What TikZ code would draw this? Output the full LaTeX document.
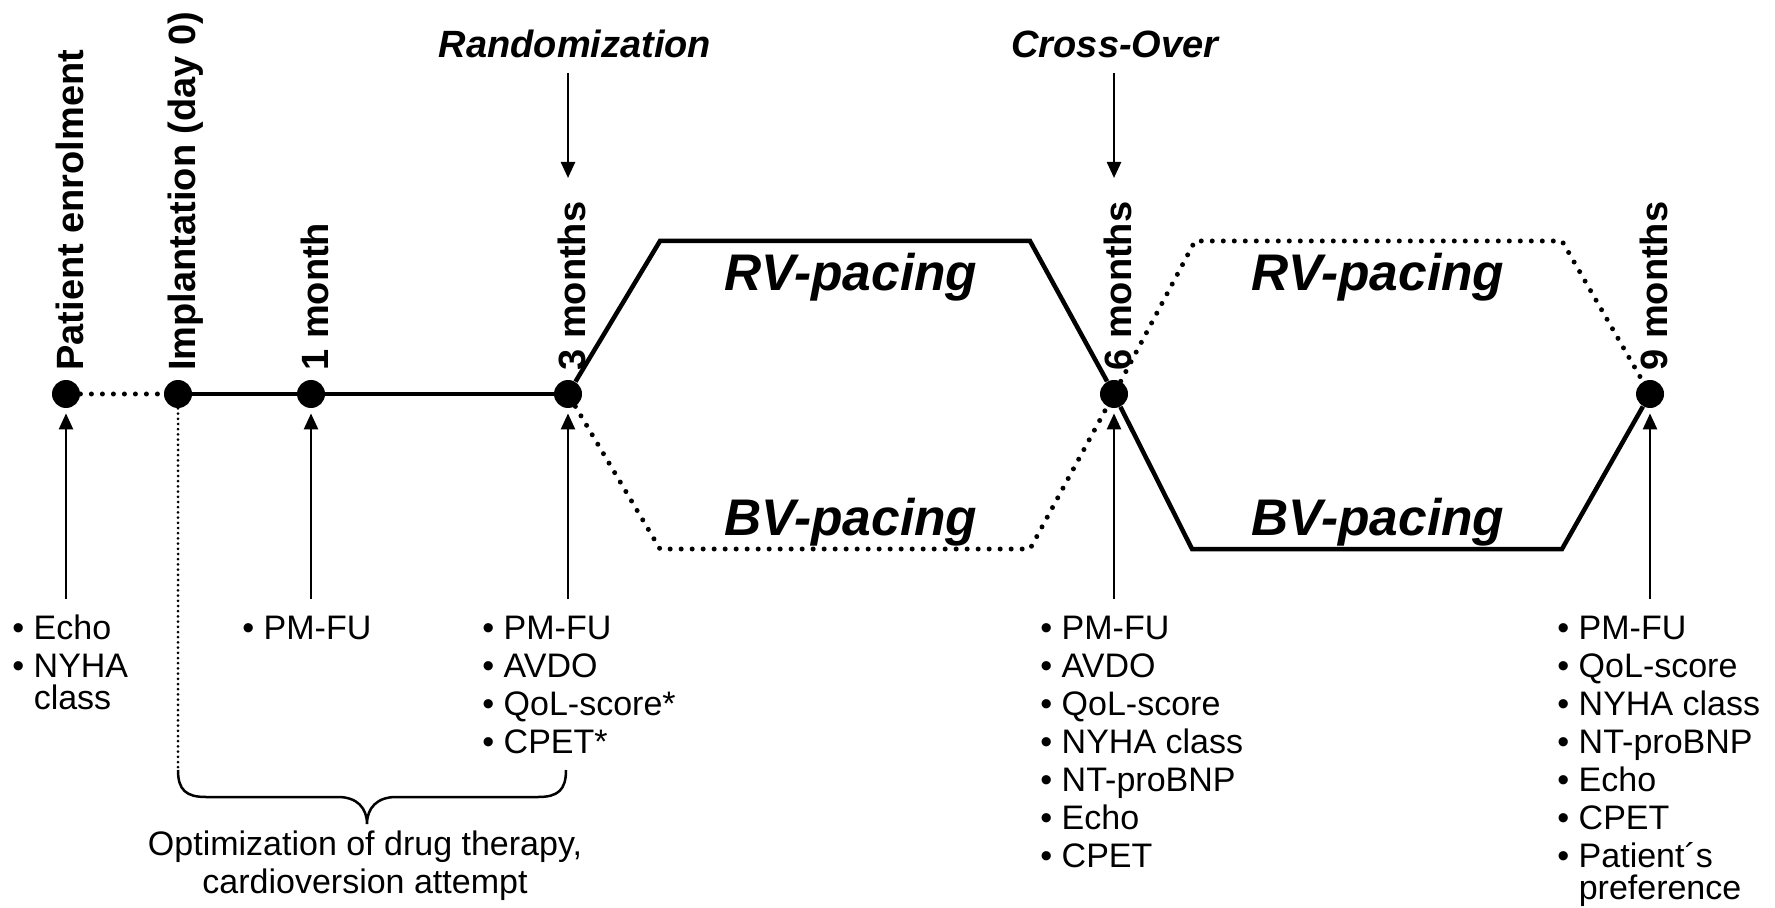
\documentclass[tikz,border=0pt]{standalone}
\usepackage{fontspec}
\setmainfont{Liberation Sans}
\usetikzlibrary{arrows.meta}
\newcommand{\lst}[1]{\vtop{\baselineskip=19pt\lineskiplimit=-10pt #1}}
\newcommand{\li}[1]{\hbox{•\ #1}}
\newcommand{\lc}[1]{\vskip-3pt\hbox{\phantom{•\ }#1}}
\begin{document}
\begin{tikzpicture}[x=0.5pt,y=-0.5pt,
  dot/.style={circle,fill=black,inner sep=0pt,minimum size=14pt},
  vlab/.style={rotate=90,anchor=base west,inner sep=0pt,font=\fontsize{19pt}{22pt}\selectfont\bfseries},
  toplab/.style={anchor=base,inner sep=0pt,font=\fontsize{19pt}{22pt}\selectfont\bfseries\itshape},
  pacing/.style={anchor=base,inner sep=0pt,font=\fontsize{25.75pt}{30pt}\selectfont\bfseries\itshape},
  items/.style={anchor=base west,inner sep=0pt,font=\fontsize{17pt}{19pt}\selectfont},
  solidline/.style={line width=2.25pt,line join=miter},
  dotline/.style={line width=2.5pt,line cap=round,dash pattern=on 0pt off 5.5pt},
  thindots/.style={line width=1.5pt,line cap=round,dash pattern=on 0pt off 2.6pt},
  arr/.style={line width=1.25pt,-{Triangle[length=8pt,width=7pt]}},
  bracestyle/.style={line width=1.25pt}
]
\useasboundingbox[fill=white] (0,0) rectangle (1775,908);

% time points
\node[dot] (d0) at (66,394) {};
\node[dot] (d1) at (178,394) {};
\node[dot] (d2) at (311,394) {};
\node[dot] (d3) at (568,394) {};
\node[dot] (d6) at (1114,394) {};
\node[dot] (d9) at (1650,394) {};

% vertical labels
\node[vlab] (l0) at (83,371) {Patient enrolment};
\node[vlab] (l1) at (195,371) {Implantation (day 0)};
\node[vlab] (l2) at (328,371) {1 month};
\node[vlab] (l3) at (585,371) {3 months};
\node[vlab] (l6) at (1131,371) {6 months};
\node[vlab] (l9) at (1667,371) {9 months};

% top labels and arrows
\node[toplab] (rand) at (575,58) {Randomization};
\node[toplab] (cross) at (1115,58) {Cross-Over};
\coordinate (rt3) at (568,178);
\coordinate (rt6) at (1114,178);
\draw[arr,shorten <=7pt] (rand.south -| d3) -- (rt3);
\draw[arr,shorten <=7pt] (cross.south -| d6) -- (rt6);

% main line
\draw[dotline] (d0) -- (d1);
\draw[solidline] (d1) -- (d2) -- (d3);

% trapezoids
\coordinate (rvA) at (660,241);
\coordinate (rvB) at (1030,241);
\coordinate (bvA) at (660,549);
\coordinate (bvB) at (1030,549);
\coordinate (rv2A) at (1195,241);
\coordinate (rv2B) at (1562,241);
\coordinate (bv2A) at (1192,549);
\coordinate (bv2B) at (1562,549);
\draw[solidline] (d3) -- (rvA) -- (rvB) -- (d6);
\draw[dotline] (d3) -- (bvA) -- (bvB) -- (d6);
\draw[dotline] (d6) -- (rv2A) -- (rv2B) -- (d9);
\draw[solidline] (d6) -- (bv2A) -- (bv2B) -- (d9);

\node[pacing] (rv1) at (851,291) {RV-pacing};
\node[pacing] (bv1) at (851,535) {BV-pacing};
\node[pacing] (rv2) at (1378,291) {RV-pacing};
\node[pacing] (bv2) at (1378,535) {BV-pacing};

% upward arrows
\coordinate (b0) at (66,599);
\coordinate (b2) at (311,599);
\coordinate (b3) at (568,599);
\coordinate (b6) at (1114,599);
\coordinate (b9) at (1650,599);
\draw[arr,shorten >=2.5pt] (b0) -- (d0);
\draw[arr,shorten >=2.5pt] (b2) -- (d2);
\draw[arr,shorten >=2.5pt] (b3) -- (d3);
\draw[arr,shorten >=2.5pt] (b6) -- (d6);
\draw[arr,shorten >=2.5pt] (b9) -- (d9);

% brace
\coordinate (bl) at (178,770);
\coordinate (br) at (566,770);
\coordinate (btip) at (367,824);
\draw[thindots] (d1) -- (bl);
\draw[bracestyle] (bl) .. controls (178,790) and (186,797) .. (206,797) -- (338,797)
  .. controls (357,797) and (367,808) .. (btip)
  .. controls (367,808) and (377,797) .. (396,797) -- (538,797)
  .. controls (558,797) and (566,790) .. (br);
\node[items,anchor=base] (opt) at (365,855)
  {\vtop{\baselineskip=19pt\halign{\hfil#\hfil\cr Optimization of drug therapy,\cr cardioversion attempt\cr}}};

% lists
\node[items] (m0) at (12,639) {\lst{\li{Echo}\li{NYHA}\lc{class}}};
\node[items] (m1) at (242,639) {\lst{\li{PM-FU}}};
\node[items] (m3) at (482,639) {\lst{\li{PM-FU}\li{AVDO}\li{QoL-score*}\li{CPET*}}};
\node[items] (m6) at (1040,639) {\lst{\li{PM-FU}\li{AVDO}\li{QoL-score}\li{NYHA class}\li{NT-proBNP}\li{Echo}\li{CPET}}};
\node[items] (m9) at (1557,639) {\lst{\li{PM-FU}\li{QoL-score}\li{NYHA class}\li{NT-proBNP}\li{Echo}\li{CPET}\li{Patient´s}\lc{preference}}};
\end{tikzpicture}
\end{document}
